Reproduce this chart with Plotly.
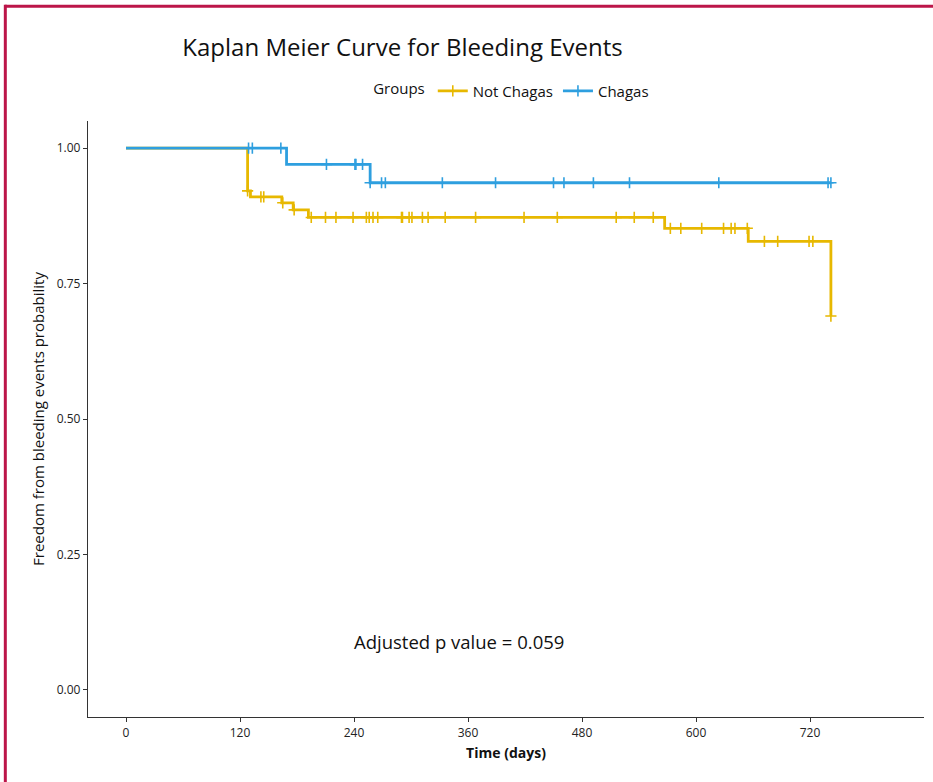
import plotly.graph_objects as go

# ---- data ----
groups = ["Not Chagas", "Chagas"]
colors = ["#E7B800", "#2E9FDF"]

nc_times = [0, 128, 131, 164, 176, 192, 567, 655, 742]
nc_surv = [1.0, 0.921, 0.910, 0.899, 0.886, 0.872, 0.852, 0.828, 0.690]
nc_censor = [128, 142, 145, 165, 177, 195, 210, 221, 239, 253, 256, 260, 265,
             290, 291, 298, 301, 312, 318, 336, 368, 419, 454, 516, 535, 555,
             573, 584, 606, 629, 637, 641, 654, 672, 686, 719, 723, 742]

ch_times = [0, 169, 257, 742]
ch_surv = [1.0, 0.970, 0.936, 0.936]
ch_censor = [129, 133, 163, 211, 241, 242, 249, 257, 269, 273, 333, 389, 450,
             461, 492, 530, 624, 739, 742]

x_ticks = [0, 120, 240, 360, 480, 600, 720]
y_ticks = [0.0, 0.25, 0.50, 0.75, 1.00]
y_tick_labels = ["0.00", "0.25", "0.50", "0.75", "1.00"]

p_text = "Adjusted p value = 0.059"
p_pos = (350, 0.09)

FONT = "Open Sans"


def step_value(times, surv, t):
    v = surv[0]
    for ti, si in zip(times, surv):
        if ti <= t:
            v = si
    return v


fig = go.Figure()
series = [(nc_times, nc_surv, nc_censor), (ch_times, ch_surv, ch_censor)]
for (times, surv, cens), name, col in zip(series, groups, colors):
    cy = [step_value(times, surv, t) for t in cens]
    fig.add_trace(go.Scatter(
        x=times, y=surv, mode="lines", line=dict(color=col, width=2.8, shape="hv"),
        name=name, legendgroup=name, showlegend=False, hoverinfo="skip"))
    fig.add_trace(go.Scatter(
        x=cens, y=cy, mode="markers", name=name, legendgroup=name, showlegend=False,
        marker=dict(symbol="cross-thin", size=8, line=dict(color=col, width=1.6))))
    # legend entry: line with a cross
    fig.add_trace(go.Scatter(
        x=[None], y=[None], mode="lines+markers", name=name, legendgroup=name,
        line=dict(color=col, width=2.8),
        marker=dict(symbol="cross-thin", size=8, line=dict(color=col, width=1.6))))

fig.add_annotation(x=p_pos[0], y=p_pos[1], text=p_text, showarrow=False,
                   font=dict(family=FONT, size=18.5, color="#111"))

# crimson frame lines (top and left)
frame = "#BC1549"
fig.add_shape(type="line", xref="paper", yref="paper", x0=-0.0995, x1=1.2,
              y0=1.1925, y1=1.1925, line=dict(color=frame, width=3))
fig.add_shape(type="line", xref="paper", yref="paper", x0=-0.0989, x1=-0.0989,
              y0=1.195, y1=-0.2, line=dict(color=frame, width=3))

fig.update_layout(
    width=933, height=782,
    margin=dict(l=88, r=9, t=121, b=65),
    paper_bgcolor="white", plot_bgcolor="white",
    font=dict(family=FONT, size=12, color="#111"),
    title=dict(text="Kaplan Meier Curve for Bleeding Events", x=402.5 / 933,
               xanchor="center", xref="container", y=1 - 48 / 782, yanchor="middle",
               yref="container", font=dict(family=FONT, size=24, color="#111")),
    legend=dict(orientation="h", x=0.508, xanchor="center", y=1.05, yanchor="middle",
                title=dict(text="Groups", side="left", font=dict(size=15)),
                font=dict(family=FONT, size=15, color="#111"),
                bgcolor="rgba(0,0,0,0)", itemwidth=30),
    xaxis=dict(range=[-40, 840], tickvals=x_ticks, showgrid=False, zeroline=False,
               showline=True, linecolor="#333", linewidth=1.4, ticks="outside",
               ticklen=4, tickcolor="#333", tickfont=dict(size=12, color="#222"),
               title=dict(text="<b>Time (days)</b>", font=dict(size=14, color="#111"),
                          standoff=8)),
    yaxis=dict(range=[-0.05, 1.05], tickvals=y_ticks, ticktext=y_tick_labels,
               showgrid=False, zeroline=False, showline=True, linecolor="#333",
               linewidth=1.4, ticks="outside", ticklen=4, tickcolor="#333",
               tickfont=dict(size=12, color="#222"),
               title=dict(text="Freedom from bleeding events probability",
                          font=dict(size=15, color="#111"), standoff=8)),
)

fig.write_html("out.html")
